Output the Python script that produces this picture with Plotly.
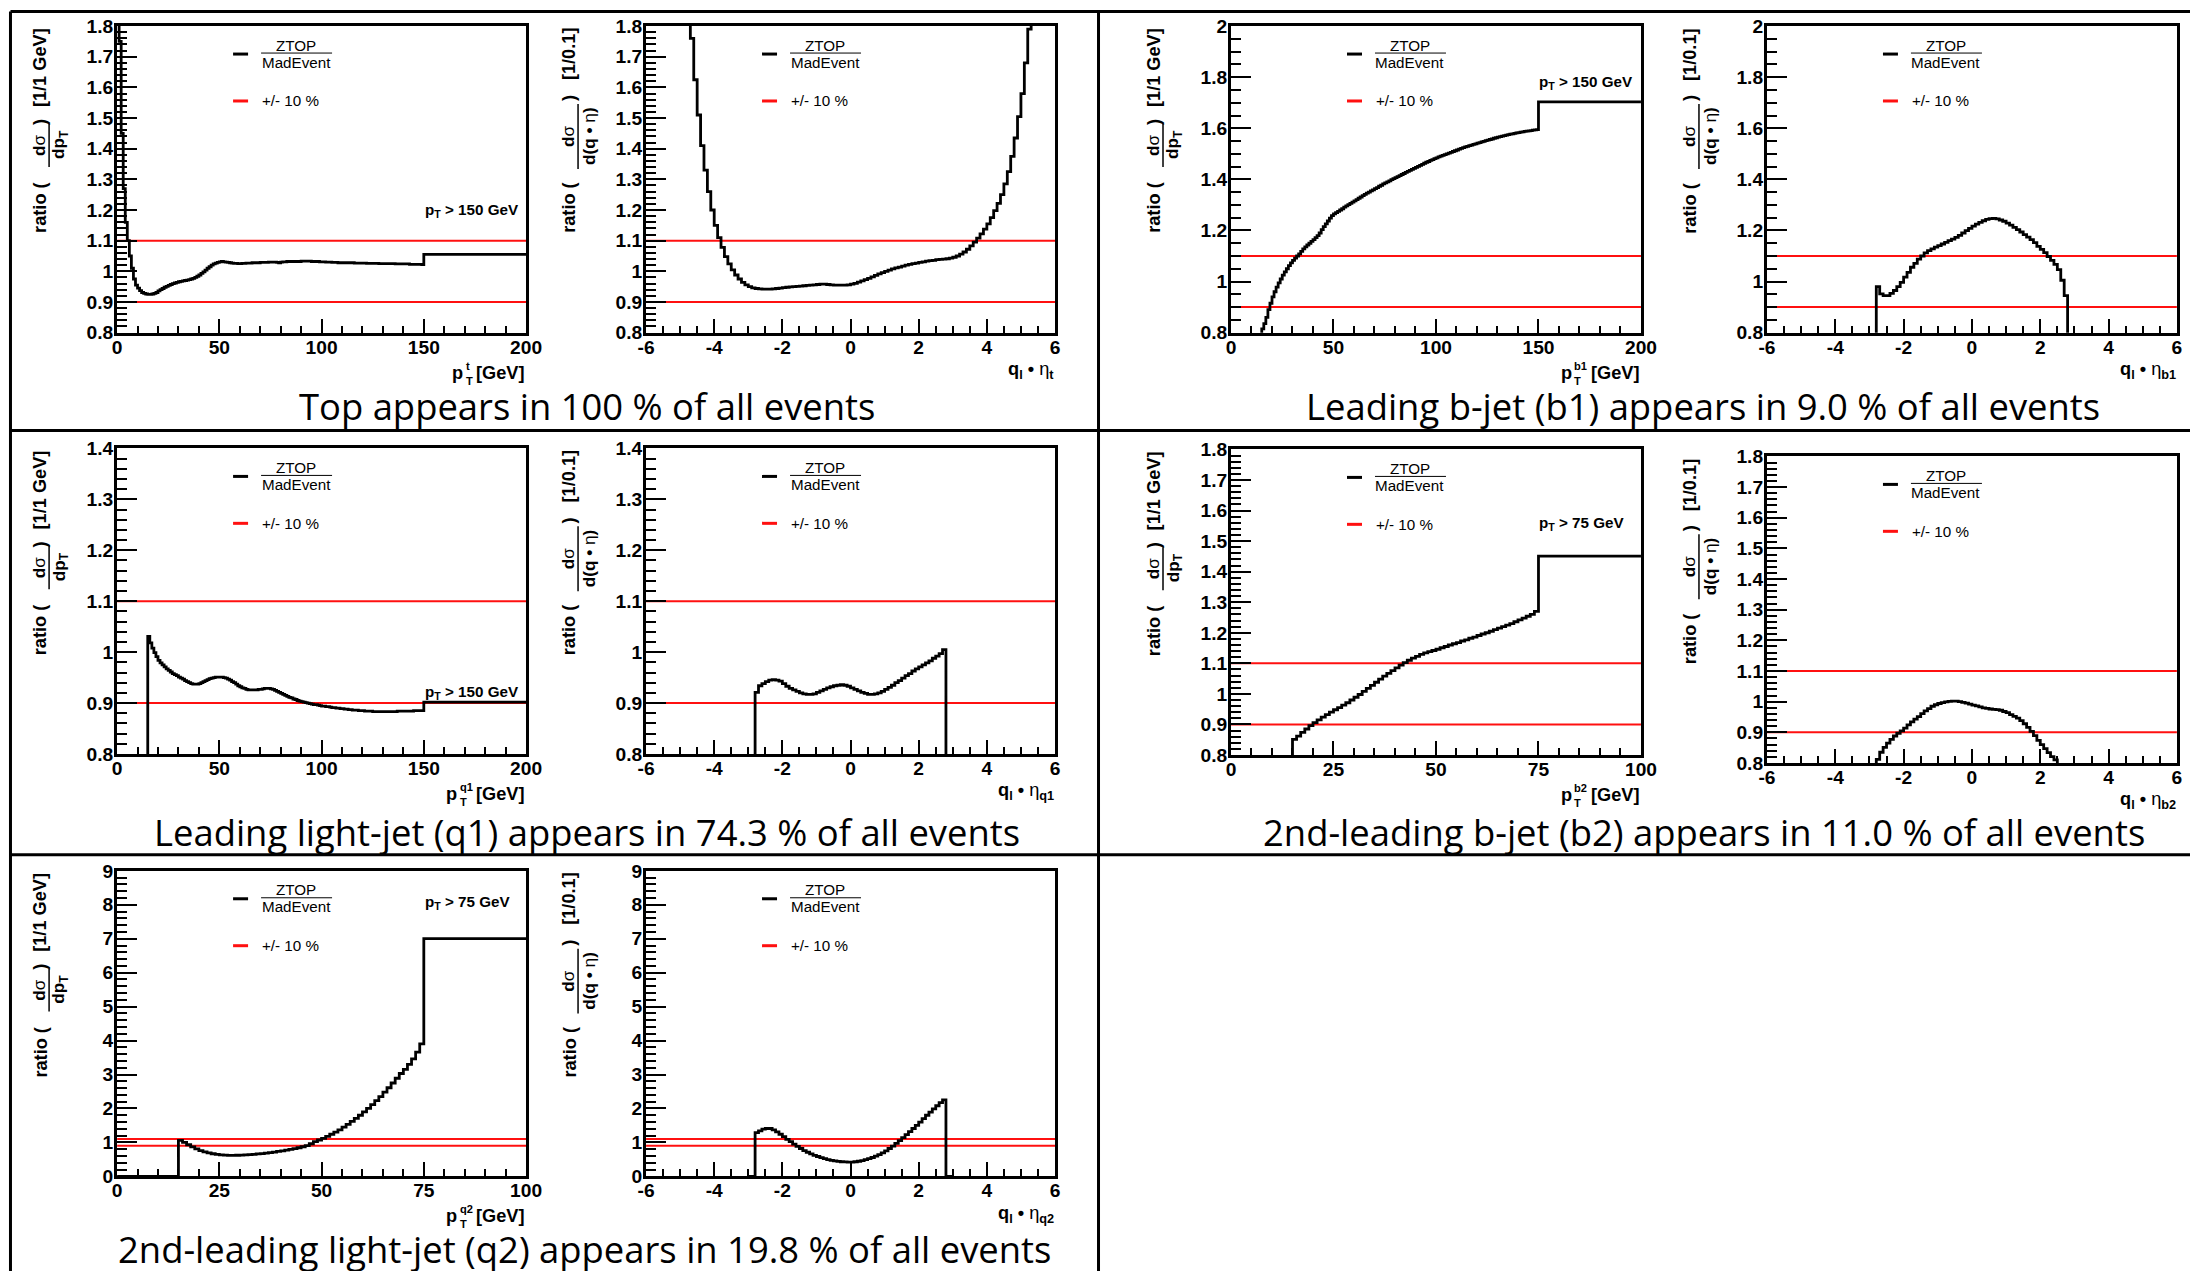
import numpy as np
import plotly.graph_objects as go

# Target picture size and the measured page -> picture mapping of the viewer
W, H = 2190, 1271
PAGE_PAD = 8                   # body margin of the html page
SX, SY = 0.9887, 0.985         # picture px per page px (measured)
FW, FH = 2198, 1273            # figure size in page px
FS = 1 / SX                    # font compensation
SANS = "Liberation Sans, Arial, Helvetica, sans-serif"
TITLE_FONT = "Open Sans, Noto Sans, sans-serif"

# ---------------- data ----------------
# ratio ZTOP / MadEvent ; pT histograms: 1 GeV bins starting at 0 GeV,
# followed by one wide bin (the "pT > X GeV" bin)
top_pt = [
    2.4, 1.75, 1.45, 1.27, 1.16, 1.10, 1.05, 1.01, 0.975, 0.955,
    0.945, 0.937, 0.931, 0.928, 0.926, 0.925, 0.925, 0.926, 0.928, 0.931,
    0.936, 0.94, 0.944, 0.948, 0.951, 0.954, 0.957, 0.96, 0.962, 0.964,
    0.966, 0.967, 0.969, 0.97, 0.971, 0.973, 0.975, 0.977, 0.98, 0.984,
    0.988, 0.993, 0.998, 1.004, 1.01, 1.015, 1.02, 1.024, 1.027, 1.029,
    1.031, 1.032, 1.031, 1.030, 1.029, 1.028, 1.027, 1.026, 1.026, 1.025,
    1.025, 1.026, 1.026, 1.027, 1.027, 1.027, 1.028, 1.028, 1.028, 1.028,
    1.029, 1.029, 1.029, 1.029, 1.030, 1.030, 1.030, 1.030, 1.029, 1.028,
    1.030, 1.031, 1.031, 1.032, 1.032, 1.032, 1.032, 1.032, 1.032, 1.032,
    1.033, 1.033, 1.033, 1.033, 1.033, 1.032, 1.032, 1.032, 1.032, 1.031,
    1.031, 1.031, 1.030, 1.030, 1.030, 1.029, 1.029, 1.029, 1.028, 1.028,
    1.028, 1.028, 1.028, 1.028, 1.028, 1.028, 1.027, 1.027, 1.027, 1.027,
    1.027, 1.027, 1.026, 1.026, 1.026, 1.026, 1.026, 1.026, 1.025, 1.025,
    1.025, 1.025, 1.025, 1.025, 1.025, 1.025, 1.024, 1.024, 1.024, 1.024,
    1.024, 1.024, 1.024, 1.023, 1.023, 1.023, 1.023, 1.023, 1.023, 1.022,
]
top_pt_tail = 1.055            # 150 - 200 GeV
top_eta_start = -4.8           # 0.1 wide bins
top_eta = [
    2.2, 1.76, 1.625, 1.51, 1.41, 1.33, 1.26, 1.20, 1.15, 1.11,
    1.078, 1.048, 1.024, 1.005, 0.988, 0.975, 0.964, 0.956, 0.950, 0.946,
    0.944, 0.943,
    0.942, 0.942, 0.942, 0.943, 0.944, 0.945, 0.947, 0.948, 0.949, 0.950,
    0.951, 0.952, 0.953, 0.954, 0.955, 0.956, 0.957, 0.958, 0.958, 0.957,
    0.956, 0.955, 0.955, 0.955, 0.955, 0.956,
    0.958, 0.961, 0.965, 0.969, 0.973, 0.977, 0.982, 0.987, 0.992, 0.996,
    1.000, 1.004, 1.008, 1.011, 1.014, 1.017, 1.020, 1.023, 1.025, 1.027,
    1.029, 1.031, 1.033, 1.035, 1.036, 1.038, 1.039, 1.040, 1.041, 1.043,
    1.046, 1.050, 1.056, 1.063, 1.072, 1.083, 1.095, 1.108, 1.122, 1.138,
    1.155, 1.175, 1.198, 1.222, 1.25, 1.285, 1.325, 1.375, 1.435, 1.505,
    1.58, 1.68, 1.79, 2.0, 2.3,
]

b1_pt = [
    0, 0, 0, 0, 0, 0, 0, 0, 0, 0,
    0, 0, 0, 0, 0, 0.815, 0.835, 0.86, 0.89, 0.915,
    0.94, 0.96, 0.978, 0.995, 1.01, 1.025, 1.038, 1.05, 1.062, 1.073,
    1.083, 1.092, 1.10, 1.108, 1.118, 1.128, 1.136, 1.143, 1.15, 1.157,
    1.164, 1.172, 1.18, 1.19, 1.203, 1.215, 1.226, 1.237, 1.248, 1.258,
    1.265, 1.27, 1.275, 1.28, 1.285, 1.291, 1.296, 1.301, 1.306, 1.311,
    1.316, 1.321, 1.326, 1.331, 1.336, 1.341, 1.346, 1.35, 1.355, 1.359,
    1.364, 1.368, 1.373, 1.377, 1.382, 1.386, 1.39, 1.394, 1.399, 1.403,
    1.407, 1.411, 1.415, 1.419, 1.423, 1.427, 1.431, 1.435, 1.439, 1.443,
    1.447, 1.451, 1.455, 1.459, 1.463, 1.467, 1.47, 1.474, 1.477, 1.481,
    1.484, 1.488, 1.491, 1.494, 1.497, 1.5, 1.503, 1.506, 1.509, 1.512,
    1.515, 1.518, 1.521, 1.524, 1.527, 1.529, 1.532, 1.534, 1.537, 1.539,
    1.542, 1.544, 1.547, 1.549, 1.552, 1.554, 1.556, 1.558, 1.561, 1.563,
    1.565, 1.567, 1.569, 1.571, 1.573, 1.575, 1.577, 1.578, 1.58, 1.582,
    1.583, 1.585, 1.586, 1.588, 1.589, 1.59, 1.591, 1.593, 1.594, 1.595,
]
b1_pt_tail = 1.703
b1_eta_start = -3.0
b1_eta = [
    0, 0,
    0.98, 0.952, 0.945, 0.945, 0.954, 0.965, 0.98, 0.997, 1.017, 1.036,
    1.056, 1.071, 1.088, 1.100, 1.112, 1.121, 1.128, 1.135, 1.141, 1.147,
    1.153, 1.16, 1.166, 1.173, 1.181, 1.19, 1.199, 1.208, 1.217, 1.225,
    1.232, 1.238, 1.243, 1.246, 1.247, 1.245, 1.241, 1.236, 1.229, 1.221,
    1.212, 1.203, 1.194, 1.184, 1.174, 1.164, 1.152, 1.138, 1.126, 1.113,
    1.098, 1.083, 1.067, 1.047, 1.005, 0.945,
    0, 0,
]

q1_pt = [
    0, 0, 0, 0, 0, 0, 0, 0, 0, 0,
    0, 0, 0, 0, 0, 1.031, 1.018, 1.008, 0.999, 0.991,
    0.984, 0.979, 0.975, 0.971, 0.967, 0.964, 0.961, 0.958, 0.956, 0.954,
    0.951, 0.949, 0.947, 0.944, 0.942, 0.94, 0.938, 0.937, 0.937, 0.937,
    0.938, 0.94, 0.942, 0.944, 0.946, 0.948, 0.949, 0.95, 0.951, 0.951,
    0.951, 0.951, 0.95, 0.949, 0.947, 0.945, 0.942, 0.94, 0.937, 0.934,
    0.932, 0.93, 0.929, 0.927, 0.926, 0.926, 0.926, 0.926, 0.926, 0.927,
    0.927, 0.928, 0.929, 0.929, 0.929, 0.928, 0.927, 0.925, 0.923, 0.921,
    0.919, 0.917, 0.915, 0.913, 0.911, 0.91, 0.908, 0.907, 0.905, 0.904,
    0.903, 0.902, 0.901, 0.9, 0.899, 0.898, 0.897, 0.897, 0.896, 0.895,
    0.894, 0.894, 0.893, 0.893, 0.892, 0.891, 0.891, 0.89, 0.89, 0.889,
    0.889, 0.888, 0.888, 0.887, 0.887, 0.886, 0.886, 0.886, 0.885, 0.885,
    0.885, 0.884, 0.884, 0.884, 0.884, 0.883, 0.883, 0.883, 0.883, 0.883,
    0.883, 0.883, 0.883, 0.883, 0.883, 0.883, 0.883, 0.884, 0.884, 0.884,
    0.884, 0.884, 0.884, 0.884, 0.884, 0.885, 0.885, 0.885, 0.885, 0.885,
]
q1_pt_tail = 0.902
q1_eta_start = -3.0
q1_eta = [
    0, 0,
    0.921, 0.934, 0.938, 0.942, 0.945, 0.946, 0.945, 0.943, 0.938, 0.933,
    0.929, 0.926, 0.923, 0.92, 0.918, 0.917, 0.917, 0.918, 0.921, 0.924,
    0.927, 0.93, 0.932, 0.934, 0.935, 0.936, 0.935, 0.933, 0.93, 0.927,
    0.924, 0.921, 0.919, 0.917, 0.917, 0.918, 0.92, 0.923, 0.927, 0.931,
    0.935, 0.94, 0.944, 0.949, 0.954, 0.958, 0.963, 0.967, 0.971, 0.975,
    0.979, 0.983, 0.988, 0.992, 0.997, 1.005,
    0, 0,
]

b2_pt = [
    0, 0, 0, 0, 0, 0, 0, 0, 0, 0,
    0, 0, 0, 0, 0, 0.851, 0.862, 0.874, 0.885, 0.896,
    0.906, 0.915, 0.924, 0.932, 0.94, 0.948, 0.955, 0.963, 0.971, 0.98,
    0.989, 0.998, 1.008, 1.018, 1.028, 1.038, 1.048, 1.058, 1.067, 1.076,
    1.085, 1.094, 1.102, 1.11, 1.117, 1.123, 1.129, 1.134, 1.138, 1.142,
    1.146, 1.151, 1.155, 1.16, 1.164, 1.168, 1.173, 1.177, 1.182, 1.186,
    1.191, 1.196, 1.2, 1.205, 1.21, 1.215, 1.22, 1.225, 1.23, 1.236,
    1.242, 1.248, 1.254, 1.26, 1.27,
]
b2_pt_tail = 1.451
b2_eta_start = -3.0
b2_eta = [
    0, 0,
    0.812, 0.835, 0.851, 0.865, 0.877, 0.888, 0.897, 0.905, 0.914, 0.924,
    0.934, 0.943, 0.951, 0.961, 0.97, 0.977, 0.985, 0.99, 0.994, 0.997,
    0.999, 1.001, 1.002, 1.002, 1.0, 0.998, 0.995, 0.992, 0.989, 0.986,
    0.983, 0.98, 0.978, 0.976, 0.975, 0.974, 0.972, 0.968, 0.964, 0.958,
    0.952, 0.946, 0.938, 0.928, 0.916, 0.903, 0.889, 0.874, 0.86, 0.847,
    0.834, 0.821, 0.81, 0.795,
    0, 0,
]

q2_pt = [
    0, 0, 0, 0, 0, 0, 0, 0, 0, 0,
    0, 0, 0, 0, 0, 1.06, 1.0, 0.93, 0.87, 0.81,
    0.76, 0.72, 0.69, 0.665, 0.645, 0.632, 0.625, 0.62, 0.62, 0.622,
    0.626, 0.632, 0.64, 0.65, 0.66, 0.672, 0.685, 0.7, 0.716, 0.734,
    0.753, 0.773, 0.795, 0.818, 0.843, 0.872, 0.905, 0.96, 1.02, 1.07,
    1.12, 1.18, 1.24, 1.3, 1.37, 1.45, 1.53, 1.62, 1.71, 1.8,
    1.9, 2.0, 2.11, 2.23, 2.35, 2.48, 2.61, 2.75, 2.89, 3.03,
    3.15, 3.3, 3.46, 3.66, 3.9,
]
q2_pt_tail = 7.0
q2_eta_start = -3.0
q2_eta = [
    0, 0,
    1.29, 1.34, 1.39, 1.41, 1.41, 1.37, 1.31, 1.24, 1.17, 1.09,
    1.02, 0.95, 0.88, 0.82, 0.76, 0.71, 0.66, 0.62, 0.585, 0.55,
    0.52, 0.495, 0.47, 0.455, 0.44, 0.43, 0.425, 0.42, 0.42, 0.43,
    0.445, 0.465, 0.49, 0.52, 0.555, 0.595, 0.64, 0.69, 0.75, 0.82,
    0.89, 0.97, 1.05, 1.14, 1.23, 1.32, 1.41, 1.5, 1.6, 1.7,
    1.8, 1.89, 1.99, 2.08, 2.17, 2.25,
    0, 0,
]

band_lo, band_hi = 0.9, 1.1
pt_bin = 1.0
eta_bin = 0.1

eta_tick_vals = [-6, -4, -2, 0, 2, 4, 6]
eta_tick_text = ["-6", "-4", "-2", "0", "2", "4", "6"]

panel_titles = [
    ("Top appears in 100 % of all events", 586, 404),
    ("Leading b-jet (b1) appears in 9.0 % of all events", 1702, 404),
    ("Leading light-jet (q1) appears in 74.3 % of all events", 586, 831),
    ("2nd-leading b-jet (b2) appears in 11.0 % of all events", 1703, 831),
    ("2nd-leading light-jet (q2) appears in 19.8 % of all events", 583, 1249),
]

# ---------------- subplot layout (picture-pixel frames) ----------------
plots = [
    dict(kind="pt", vals=top_pt, tail=top_pt_tail, split=150, end=200, frame=(116, 525, 24, 331),
         yr=(0.8, 1.8), ydt=0.1, ymn=0.02, xdt=50, xmn=10, sup="t", sw=7, cut="150", cut_x=150, cut_y=1.2),
    dict(kind="eta", vals=top_eta, start=top_eta_start, frame=(645, 1054, 24, 331),
         yr=(0.8, 1.8), ydt=0.1, ymn=0.02, sub="t"),
    dict(kind="pt", vals=b1_pt, tail=b1_pt_tail, split=150, end=200, frame=(1230, 1640, 24, 331),
         yr=(0.8, 2.0), ydt=0.2, ymn=0.05, xdt=50, xmn=10, sup="b1", sw=13, cut="150", cut_x=150, cut_y=1.781),
    dict(kind="eta", vals=b1_eta, start=b1_eta_start, frame=(1766, 2176, 24, 331),
         yr=(0.8, 2.0), ydt=0.2, ymn=0.05, sub="b1"),
    dict(kind="pt", vals=q1_pt, tail=q1_pt_tail, split=150, end=200, frame=(116, 525, 447, 753),
         yr=(0.8, 1.4), ydt=0.1, ymn=0.02, xdt=50, xmn=10, sup="q1", sw=13, cut="150", cut_x=150, cut_y=0.921),
    dict(kind="eta", vals=q1_eta, start=q1_eta_start, frame=(645, 1054, 447, 753),
         yr=(0.8, 1.4), ydt=0.1, ymn=0.02, sub="q1"),
    dict(kind="pt", vals=b2_pt, tail=b2_pt_tail, split=75, end=100, frame=(1230, 1640, 448, 754),
         yr=(0.8, 1.8), ydt=0.1, ymn=0.02, xdt=25, xmn=5, sup="b2", sw=13, cut="75", cut_x=75, cut_y=1.559),
    dict(kind="eta", vals=b2_eta, start=b2_eta_start, frame=(1766, 2176, 455, 762),
         yr=(0.8, 1.8), ydt=0.1, ymn=0.02, sub="b2"),
    dict(kind="pt", vals=q2_pt, tail=q2_pt_tail, split=75, end=100, frame=(116, 525, 870, 1176),
         yr=(0, 9), ydt=1, ymn=0.2, xdt=25, xmn=5, sup="q2", sw=13, cut="75", cut_x=75, cut_y=8.06),
    dict(kind="eta", vals=q2_eta, start=q2_eta_start, frame=(645, 1054, 870, 1176),
         yr=(0, 9), ydt=1, ymn=0.2, sub="q2"),
]


def px(x):
    return (x / SX - PAGE_PAD) / FW


def py(y):
    return 1 - (y / SY - PAGE_PAD) / FH


def fs(size):
    return round(size * FS, 1)


def ann(text, x, y, size, xanchor="center", yanchor="middle", angle=0, family=SANS, color="black"):
    return dict(text=text, x=px(x), y=py(y), xref="paper", yref="paper", showarrow=False,
                xanchor=xanchor, yanchor=yanchor, textangle=angle, borderpad=0,
                font=dict(family=family, size=fs(size), color=color))


def line(x0, y0, x1, y1, color="black", width=3):
    return dict(type="line", xref="paper", yref="paper", x0=px(x0), y0=py(y0), x1=px(x1), y1=py(y1),
                line=dict(color=color, width=width))


TICKFONT = dict(family=SANS, size=fs(19), color="black", weight="bold")

fig = go.Figure()
annotations = []
shapes = []
layout = dict(width=FW, height=FH, margin=dict(l=0, r=0, t=0, b=0), paper_bgcolor="white",
              plot_bgcolor="white", showlegend=False)

for i, p in enumerate(plots):
    n = i + 1
    xid = "x" if n == 1 else f"x{n}"
    yid = "y" if n == 1 else f"y{n}"
    L, R, T, B = p["frame"]
    if p["kind"] == "pt":
        edges = list(np.round(np.arange(0, p["split"] + pt_bin / 2, pt_bin), 6)) + [p["end"]]
        yv = list(p["vals"]) + [p["tail"], p["tail"]]
        xr = (0, p["end"])
    else:
        nb = len(p["vals"])
        edges = list(np.round(p["start"] + eta_bin * np.arange(nb + 1), 6))
        yv = list(p["vals"]) + [p["vals"][-1]]
        xr = (-6, 6)
    # +/- 10 % lines
    for lvl in (band_lo, band_hi):
        fig.add_trace(go.Scatter(x=[xr[0], xr[1]], y=[lvl, lvl], mode="lines",
                                 line=dict(color="#ff1010", width=2), xaxis=xid, yaxis=yid,
                                 hoverinfo="skip"))
    # ratio histogram
    fig.add_trace(go.Scatter(x=edges, y=yv, mode="lines", line=dict(color="black", width=2.8, shape="hv"),
                             xaxis=xid, yaxis=yid, hoverinfo="skip"))
    # axes
    xa = dict(domain=[px(L), px(R)], range=list(xr), anchor=yid, showline=True, mirror=True,
              linewidth=3, linecolor="black", ticks="inside", ticklen=14, tickwidth=2,
              tickcolor="black", showgrid=False, zeroline=False, tickfont=TICKFONT, fixedrange=True,
              ticklabelstandoff=-5)
    if p["kind"] == "pt":
        xa.update(tickmode="linear", tick0=0, dtick=p["xdt"],
                  minor=dict(tickmode="linear", tick0=0, dtick=p["xmn"], ticks="inside", ticklen=7,
                             tickwidth=1.5, tickcolor="black", showgrid=False))
    else:
        xa.update(tickmode="array", tickvals=eta_tick_vals, ticktext=eta_tick_text,
                  minor=dict(tickmode="linear", tick0=0, dtick=0.5, ticks="inside", ticklen=7,
                             tickwidth=1.5, tickcolor="black", showgrid=False))
    ya = dict(domain=[py(B), py(T)], range=list(p["yr"]), anchor=xid, showline=True, mirror=True,
              linewidth=3, linecolor="black", ticks="inside", ticklen=20, tickwidth=2,
              tickcolor="black", showgrid=False, zeroline=False, tickfont=TICKFONT, fixedrange=True,
              tickmode="linear", tick0=0, dtick=p["ydt"], ticklabelstandoff=-3,
              minor=dict(tickmode="linear", tick0=0, dtick=p["ymn"], ticks="inside", ticklen=10,
                         tickwidth=1.5, tickcolor="black", showgrid=False))
    layout["xaxis" if n == 1 else f"xaxis{n}"] = xa
    layout["yaxis" if n == 1 else f"yaxis{n}"] = ya

    # legend (ZTOP / MadEvent, +/- 10 %)
    shapes.append(line(L + 116, T + 28, L + 131, T + 28, "black", 3))
    annotations.append(ann("ZTOP", L + 179, T + 19, 15))
    shapes.append(line(L + 144, T + 27, L + 215, T + 27, "black", 1))
    annotations.append(ann("MadEvent", L + 179, T + 36, 15))
    shapes.append(line(L + 116, T + 75, L + 131, T + 75, "#ff1010", 3))
    annotations.append(ann("+/- 10 %", L + 144, T + 75, 15, xanchor="left"))

    # y-axis title: ratio ( dsigma / d... )  [unit]
    annotations.append(ann("<b>ratio (</b>", L - 77, T + 182, 18, angle=-90))
    if p["kind"] == "pt":
        annotations.append(ann("<b>d</b>σ", L - 78, T + 119, 17, angle=-90))
        annotations.append(ann("<b>dp<sub>T</sub></b>", L - 57, T + 119, 17, angle=-90))
        shapes.append(line(L - 68, T + 98, L - 68, T + 141, "black", 1.5))
        annotations.append(ann("<b>)</b>", L - 77, T + 96, 18, angle=-90))
        annotations.append(ann("<b>[1/1 GeV]</b>", L - 77, T + 42, 18, angle=-90))
    else:
        annotations.append(ann("<b>d</b>σ", L - 78, T + 110, 17, angle=-90))
        annotations.append(ann("<b>d(q • </b>η<b>)</b>", L - 57, T + 110, 17, angle=-90))
        shapes.append(line(L - 68, T + 78, L - 68, T + 143, "black", 1.5))
        annotations.append(ann("<b>)</b>", L - 77, T + 72, 18, angle=-90))
        annotations.append(ann("<b>[1/0.1]</b>", L - 77, T + 28, 18, angle=-90))

    # x-axis title
    if p["kind"] == "pt":
        annotations.append(ann("<b>[GeV]</b>", R, B + 40, 18, xanchor="right"))
        sl = R - 48 - 7 - p["sw"]
        annotations.append(ann("<b>p</b>", sl, B + 40, 18, xanchor="right"))
        annotations.append(ann(f"<b>{p['sup']}</b>", sl + 0.5, B + 33, 11, xanchor="left"))
        annotations.append(ann("<b>T</b>", sl + 0.5, B + 48, 11, xanchor="left"))
        # pT > X GeV label
        annotations.append(dict(text=f"<b>p<sub>T</sub> &gt; {p['cut']} GeV</b>", x=p["cut_x"], y=p["cut_y"],
                                xref=xid, yref=yid, showarrow=False, xanchor="left", yanchor="middle",
                                borderpad=0, font=dict(family=SANS, size=fs(15), color="black")))
    else:
        annotations.append(ann(f"<b>q<sub>l</sub> • </b>η<sub><b>{p['sub']}</b></sub>", R, B + 38, 18,
                               xanchor="right"))

# panel titles
for txt, cx, cy in panel_titles:
    annotations.append(ann(txt, cx, cy, 36, family=TITLE_FONT))

# panel borders (outer border kept just inside the figure)
ex = (PAGE_PAD + 1.5) * SX
ey = (PAGE_PAD + 1.5) * SY
shapes += [
    line(ex, ey, W + 40, ey), line(ex, ey, ex, H + 40),
    line(ex, 429, W + 40, 429), line(ex, 854, W + 40, 854),
    line(1097.5, ey, 1097.5, H + 40),
]

layout["annotations"] = annotations
layout["shapes"] = shapes
fig.update_layout(**layout)
fig.write_html("out.html")
